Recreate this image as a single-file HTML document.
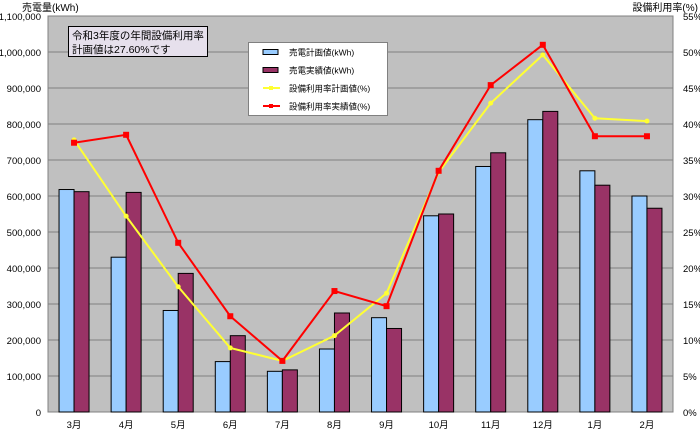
<!DOCTYPE html>
<html><head><meta charset="utf-8"><style>
body{margin:0;background:#fff;}
svg{display:block;font-family:"Liberation Sans","Noto Sans CJK JP",sans-serif;}
</style></head><body>
<svg id="c" width="700" height="432"></svg>
<script>
const categories=["3月","4月","5月","6月","7月","8月","9月","10月","11月","12月","1月","2月"];
const planKwh=[618000,430000,282000,140000,113000,175000,262000,545000,682000,812000,670000,600000];
const actualKwh=[612000,610000,385000,212000,117000,275000,232000,550000,720000,835000,630000,566000];
const planPct=[37.8,27.2,17.4,8.9,7.1,10.6,16.5,33.3,42.9,49.6,40.8,40.4];
const actualPct=[37.4,38.5,23.5,13.3,7.1,16.8,14.7,33.5,45.4,51.0,38.3,38.3];
const leftTicks=[0,100000,200000,300000,400000,500000,600000,700000,800000,900000,1000000,1100000];
const rightTicks=[0,5,10,15,20,25,30,35,40,45,50,55];
const NS="http://www.w3.org/2000/svg";
const svg=document.getElementById('c');
const L=48,R=673,T=16,B=412;
const cw=(R-L)/categories.length;
const yL=v=>B-v/1100000*(B-T);
const yR=v=>B-v/55*(B-T);
const xC=i=>L+cw*(i+0.5);
function mk(t,a,txt){const e=document.createElementNS(NS,t);for(const k in a)e.setAttribute(k,a[k]);if(txt!=null)e.textContent=txt;svg.appendChild(e);return e;}
let e;
e=mk('rect',{x:L,y:T,width:R-L,height:B-T,fill:'#c0c0c0',stroke:'#808080'});


leftTicks.forEach(v=>{
  if(v>0){e=mk('line',{x1:L,x2:R,y1:yL(v),y2:yL(v),stroke:'#808080','stroke-width':1});
  
  }
  e=mk('text',{x:L-7,y:yL(v)+4,'text-anchor':'end','font-size':9.5,fill:'#000'},v.toLocaleString('en-US'));
  
  
});
rightTicks.forEach(v=>{
  e=mk('text',{x:R+10,y:yR(v)+4,'font-size':9.5,fill:'#000'},v+'%');
  
  
});
const bw=15;
categories.forEach((c,i)=>{
  e=mk('rect',{x:xC(i)-bw,y:yL(planKwh[i]),width:bw,height:B-yL(planKwh[i]),fill:'#99ccff',stroke:'#000','stroke-width':1});
  
  
  e=mk('rect',{x:xC(i),y:yL(actualKwh[i]),width:bw,height:B-yL(actualKwh[i]),fill:'#993366',stroke:'#000','stroke-width':1});
  
  
  e=mk('text',{x:xC(i),y:B+16,'text-anchor':'middle','font-size':9.5,fill:'#000'},c);
  
  
});
function series(vals,color,name,sq){
  e=mk('polyline',{points:vals.map((v,i)=>xC(i)+','+yR(v)).join(' '),fill:'none',stroke:color,'stroke-width':2});
  
  
  vals.forEach((v,i)=>{
    if(sq)e=mk('rect',{x:xC(i)-3,y:yR(v)-3,width:6,height:6,fill:color});
    else e=mk('circle',{cx:xC(i),cy:yR(v),r:2.5,fill:color});
    
    
  });
}
series(planPct,'#ffff33','plan-rate',false);
series(actualPct,'#ff0000','actual-rate',true);
e=mk('text',{x:22,y:11,'font-size':10,fill:'#000'},'売電量(kWh)');


e=mk('text',{x:698,y:11,'text-anchor':'end','font-size':10,fill:'#000'},'設備利用率(%)');


e=mk('rect',{x:68.5,y:26.5,width:139,height:30,fill:'#e6e0ec',stroke:'#000'});


e=mk('text',{x:72,y:39,'font-size':10.5,fill:'#000'},'令和3年度の年間設備利用率');


e=mk('text',{x:72,y:53,'font-size':10.5,fill:'#000'},'計画値は27.60%です');


e=mk('rect',{x:248.5,y:42.5,width:139,height:73,fill:'#fff',stroke:'#808080'});


const leg=[['売電計画値(kWh)','#99ccff','bar'],['売電実績値(kWh)','#993366','bar'],['設備利用率計画値(%)','#ffff33','line'],['設備利用率実績値(%)','#ff0000','line']];
leg.forEach((l,k)=>{
  const y=52+k*18;
  if(l[2]=='bar')e=mk('rect',{x:263,y:y-2.5,width:15,height:5,fill:l[1],stroke:'#000'});
  else{mk('line',{x1:263,x2:280,y1:y,y2:y,stroke:l[1],'stroke-width':2});e=mk('rect',{x:269,y:y-2,width:4,height:4,fill:l[1]});}
  
  
  e=mk('text',{x:289,y:y+3.5,'font-size':8.5,fill:'#000'},l[0]);
  
  
});
</script>
</body></html>
